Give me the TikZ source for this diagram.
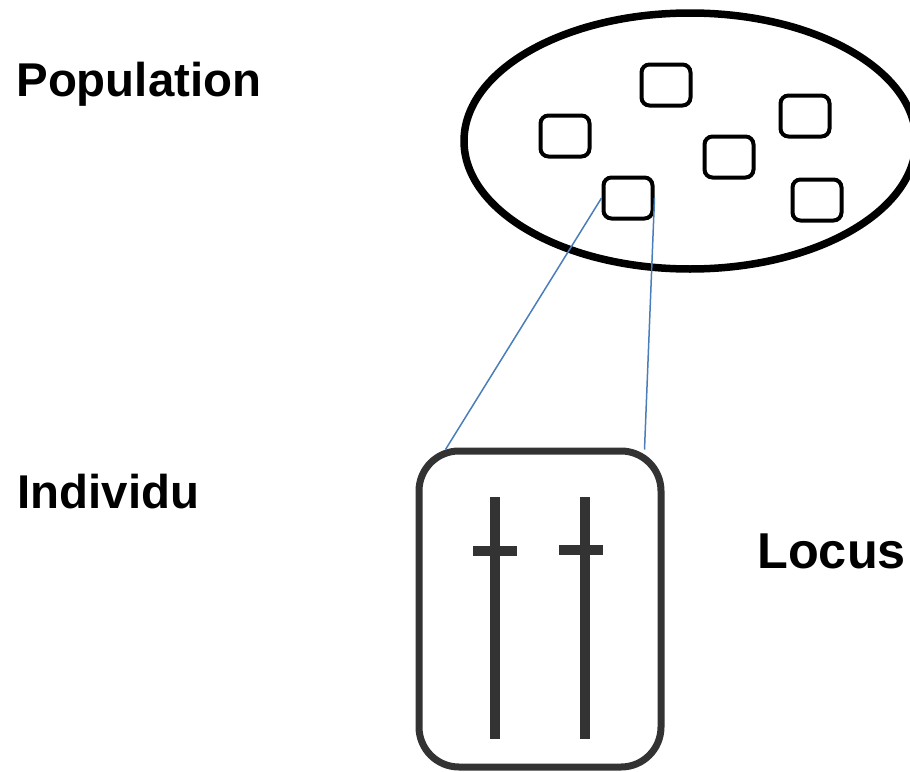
\documentclass[tikz,border=0pt]{standalone}
\usepackage{fontspec}
\setmainfont{Liberation Sans}
\usetikzlibrary{shapes.geometric,calc}
\definecolor{Charcoal}{HTML}{333333}
\definecolor{LinkBlue}{HTML}{4A7EBB}
\tikzset{pop ellipse/.style={draw, ellipse, line width=3.75pt, inner sep=0pt, minimum width=226pt, minimum height=128pt}}
\tikzset{indiv box/.style={draw, line width=2pt, rounded corners=4pt, inner sep=0pt, minimum width=24.5pt, minimum height=20.5pt}}
\tikzset{cell box/.style={draw=Charcoal, line width=3.5pt, rounded corners=20pt, inner sep=0pt, minimum width=121pt, minimum height=158pt}}
\tikzset{chromo/.style={draw=Charcoal, line width=5pt}}
\tikzset{link/.style={draw=LinkBlue, line width=0.75pt}}
\tikzset{big label/.style={anchor=base west, inner sep=0pt, font=\fontsize{23.7}{28}\selectfont\bfseries}}

\begin{document}
\begin{tikzpicture}[x=0.5pt, y=-0.5pt]
\useasboundingbox (0,0) rectangle (910,771);

\node[big label] (poplabel) at (16,96) {Population};
\node[big label] (indlabel) at (17,508) {Individu};
\node[big label, font=\fontsize{25.2}{30}\selectfont\bfseries] (loclabel) at (757,568) {Locus};

\node[pop ellipse] (pop) at (690,141) {};
\node[indiv box] (ind1) at (666,85) {};
\node[indiv box] (ind2) at (565,136) {};
\node[indiv box] (ind3) at (805,116) {};
\node[indiv box] (ind4) at (729,157) {};
\node[indiv box] (ind5) at (628,198) {};
\node[indiv box] (ind6) at (817,200) {};

\node[cell box] (cell) at (540,609) {};

%\draw[link] (603,198) -- (449,451);
\draw[link] (ind5.west) -- ($(cell.north west)+(30,2)$);
\draw[link] (ind5.east) -- ($(cell.north east)+(-20,2)$);

\draw[chromo] (495,497) -- (495,739);
\draw[chromo] (473,551) -- (517,551);
\draw[chromo] (585,497) -- (585,739);
\draw[chromo] (559,550) -- (603,550);

\end{tikzpicture}
\end{document}
